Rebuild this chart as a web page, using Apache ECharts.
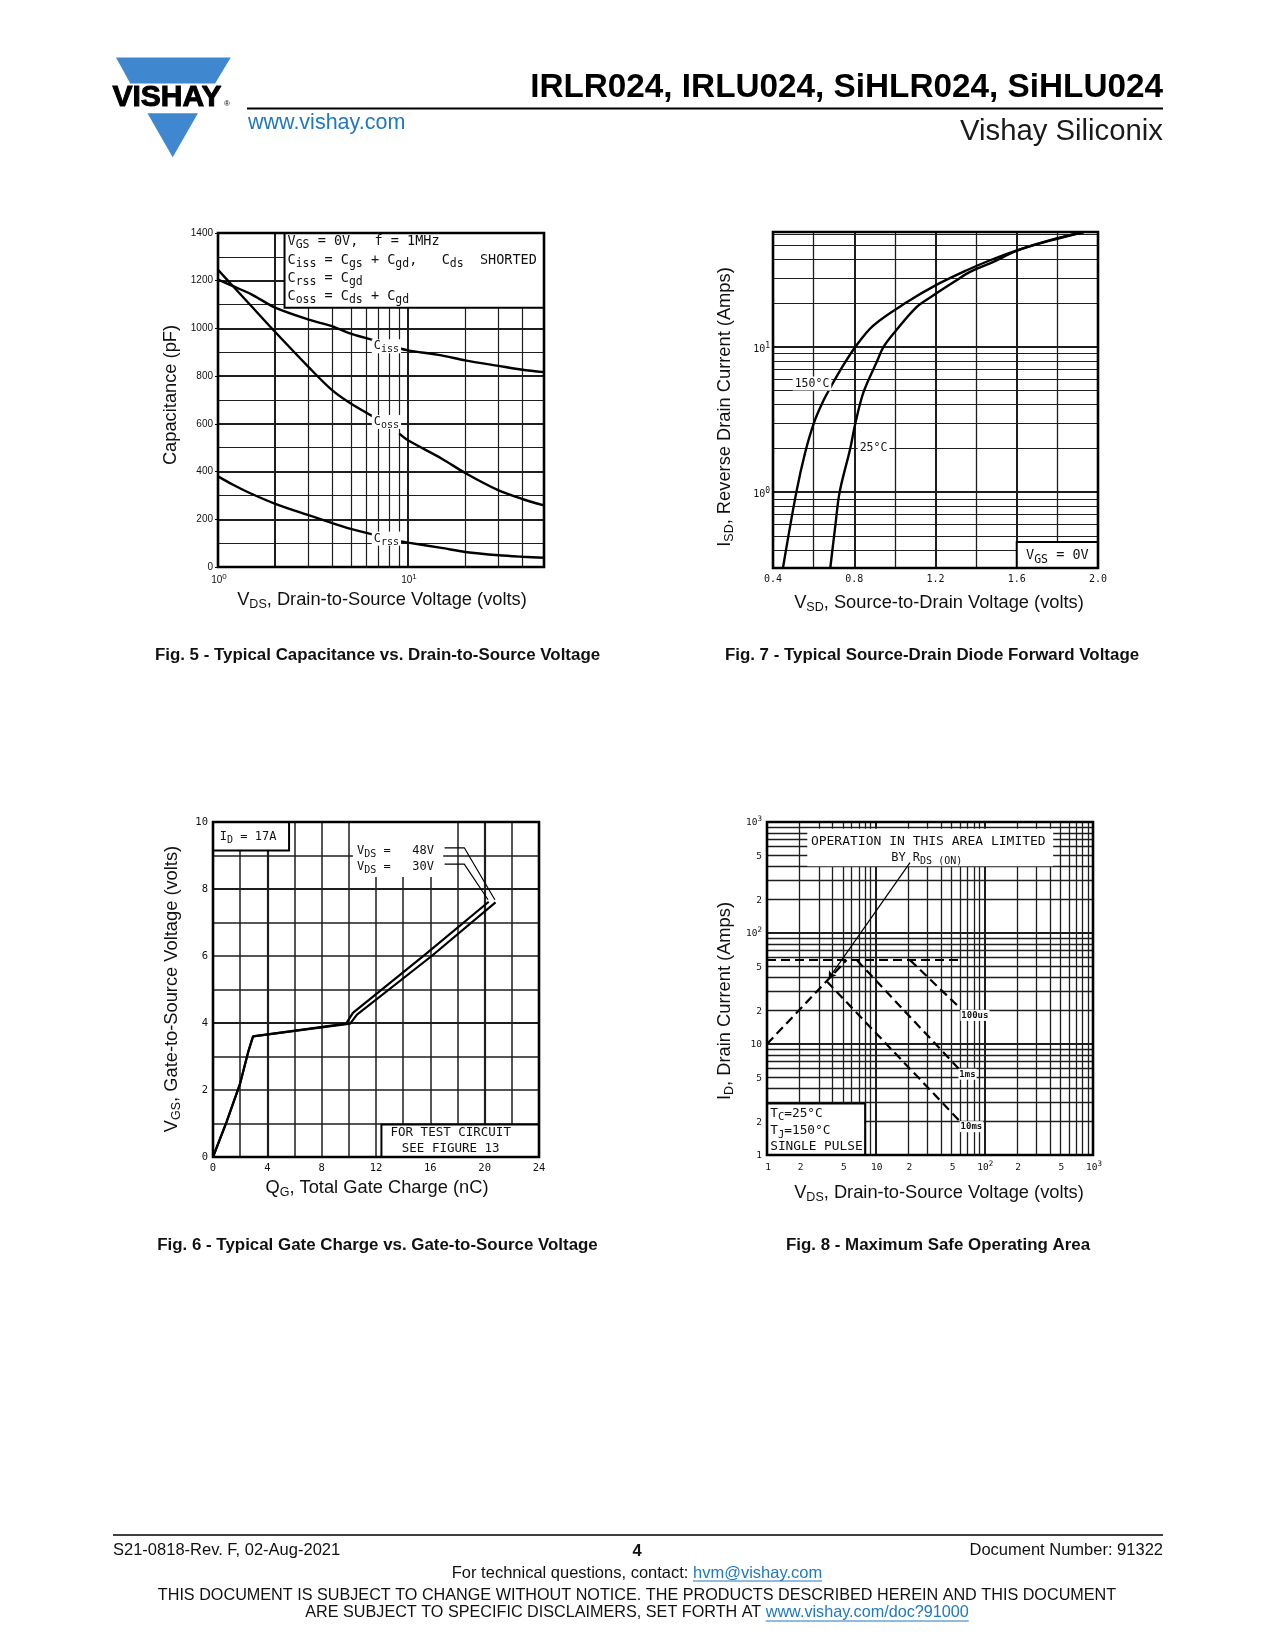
<!DOCTYPE html>
<html>
<head>
<meta charset="utf-8">
<title>IRLR024, IRLU024, SiHLR024, SiHLU024 - page 4</title>
<script src="https://cdn.jsdelivr.net/npm/echarts@6/dist/echarts.min.js"></script>
<style>
html,body{margin:0;padding:0;background:#ffffff;}
#page{width:1275px;height:1650px;}
</style>
</head>
<body>
<div id="page"></div>
<script>
// ======================= DATA =======================
// Fig. 5 - Typical Capacitance vs. Drain-to-Source Voltage
const fig5Vds  = [1, 1.2, 1.5, 2, 3, 4, 5, 6.5, 9, 10, 15, 20, 30, 40, 52];
const fig5Ciss = [1205, 1177, 1143, 1087, 1037, 1009, 978, 952, 917, 908, 887, 866, 843, 827, 817];
const fig5Coss = [1246, 1177, 1093, 985, 838, 740, 685, 632, 559, 531, 455, 394, 321, 285, 258];
const fig5Crss = [380, 345, 307, 265, 217, 184, 160, 137, 108, 102, 80, 63, 49, 43, 39];
const fig5LabelVds = 7.7;
const fig5LabelCap = [925, 608, 119];
const fig5LabelSub = ['iss', 'oss', 'rss'];
const fig5XTickVals = [1, 10];
const fig5XTickText = ['10^0', '10^1'];
const fig5GridX = [2, 3, 4, 5, 6, 7, 8, 9, 10, 20, 30, 40];
const fig5GridY = [100, 200, 300, 400, 500, 600, 700, 800, 900, 1000, 1100, 1200, 1300];

// Fig. 7 - Typical Source-Drain Diode Forward Voltage
const fig7Vsd150 = [0.449, 0.515, 0.559, 0.603, 0.649, 0.674, 0.731, 0.805, 0.895, 1.06, 1.2, 1.354, 1.469, 1.6, 1.764, 1.93];
const fig7Isd150 = [0.3, 1.0, 1.89, 3.04, 4.29, 5.0, 6.9, 10, 14.1, 20.4, 26.6, 33.8, 39.6, 46.4, 54.5, 62];
const fig7Vsd25  = [0.682, 0.707, 0.728, 0.78, 0.805, 0.846, 0.911, 0.944, 1.0, 1.108, 1.19, 1.29, 1.37, 1.485, 1.6, 1.764, 1.93];
const fig7Isd25  = [0.3, 0.589, 1.0, 1.99, 2.96, 4.9, 7.9, 10, 12.7, 18.9, 22.7, 28, 32.9, 38.6, 46, 54, 62];
const fig7YTickVals = [1, 10];
const fig7YTickText = ['10^0', '10^1'];
const fig7GridX = [0.6, 0.8, 1.0, 1.2, 1.4, 1.6, 1.8];
const fig7GridY = [0.4, 0.5, 0.6, 0.7, 0.8, 0.9, 1, 2, 3, 4, 5, 6, 7, 8, 9, 10, 20, 30, 40, 50, 60];

// Fig. 6 - Typical Gate Charge vs. Gate-to-Source Voltage
const fig6Qg30  = [0, 1, 2, 2.6, 2.95, 9.8, 10.3, 15.7, 20.3];
const fig6Vgs30 = [0, 1.05, 2.2, 3.15, 3.6, 3.98, 4.3, 6.07, 7.62];
const fig6Qg48  = [0, 1, 2, 2.6, 2.95, 10.1, 10.6, 16.1, 20.8];
const fig6Vgs48 = [0, 1.05, 2.2, 3.15, 3.6, 3.98, 4.25, 6.0, 7.6];
const fig6Lead48 = [[17.05, 9.23], [18.5, 9.23], [20.75, 7.68]];
const fig6Lead30 = [[17.05, 8.74], [18.5, 8.74], [20.25, 7.68]];
const fig6GridX = [2, 4, 6, 8, 10, 12, 14, 16, 18, 20, 22];
const fig6GridY = [1, 2, 3, 4, 5, 6, 7, 8, 9];

// Fig. 8 - Maximum Safe Operating Area
const fig8RdsV  = [1, 5.4];      const fig8RdsI  = [10, 57];
const fig8LimV  = [1, 60];       const fig8LimI  = [57, 57];
const fig8T100V = [20.7, 60];    const fig8T100I = [57, 21];
const fig8T1msV = [6.7, 60];     const fig8T1msI = [57, 5.8];
const fig8T10V  = [3.56, 60];    const fig8T10I  = [36.5, 2.0];
const fig8Leader = [[20.7, 431], [3.7, 39]];
const fig8TickVals = [1, 2, 5, 10, 20, 50, 100, 200, 500, 1000];
const fig8TickText = ['1', '2', '5', '10', '2', '5', '10^2', '2', '5', '10^3'];
const fig8Grid = [2, 3, 4, 5, 6, 7, 8, 9, 10, 20, 30, 40, 50, 60, 70, 80, 90, 100, 200, 300, 400, 500, 600, 700, 800, 900];

// ======================= HELPERS =======================
const MONO = "'DejaVu Sans Mono', 'Liberation Mono', monospace";
const SANS = "'Liberation Sans', Arial, Helvetica, sans-serif";
const INK = '#111111';
const GRIDC = '#1e1e1e';

function zip(xs, ys) { return xs.map((x, i) => [x, ys[i]]); }
function withGap(xs, ys, gx) {
  const out = [];
  for (let i = 0; i < xs.length; i++) {
    out.push([xs[i], ys[i]]);
    if (i < xs.length - 1 && xs[i] < gx && xs[i + 1] > gx) out.push([gx, '-']);
  }
  return out;
}
function near(v, arr) { return arr.some(a => Math.abs(a - v) < 1e-6); }
function gridMarks(xs, ys, wX, wY) {
  const d = [];
  xs.forEach(v => d.push({ xAxis: v, lineStyle: { color: GRIDC, width: wX(v), type: 'solid' } }));
  ys.forEach(v => d.push({ yAxis: v, lineStyle: { color: GRIDC, width: wY(v), type: 'solid' } }));
  return d;
}
function gridSeries(idx, anchor, data) {
  return {
    type: 'line', xAxisIndex: idx, yAxisIndex: idx, data: [anchor], showSymbol: false, symbol: 'none',
    lineStyle: { opacity: 0 }, silent: true, z: 1, animation: false,
    markLine: { silent: true, symbol: ['none', 'none'], label: { show: false }, animation: false, data: data }
  };
}
function curve(idx, data, extra) {
  return Object.assign({
    type: 'line', xAxisIndex: idx, yAxisIndex: idx, data: data, showSymbol: false, symbol: 'none',
    lineStyle: { color: '#000', width: 2.4 }, z: 10, animation: false, silent: true, connectNulls: false
  }, extra || {});
}
function baseAxis(extra) {
  return Object.assign({
    axisLine: { show: false }, axisTick: { show: false }, splitLine: { show: false },
    minorTick: { show: false }, minorSplitLine: { show: false }
  }, extra);
}

// ======================= CHART =======================
const chart = echarts.init(document.getElementById('page'), null, { renderer: 'canvas', width: 1275, height: 1650 });

const option = {
  animation: false,
  backgroundColor: '#ffffff',
  grid: [
    { left: 218, top: 233, width: 326, height: 334 },
    { left: 773, top: 232, width: 325, height: 336 },
    { left: 213, top: 822, width: 326, height: 335 },
    { left: 767, top: 822, width: 326, height: 333 }
  ],
  xAxis: [
    baseAxis({ gridIndex: 0, type: 'log', logBase: 10, min: 1, max: 52, axisLabel: { show: false } }),
    baseAxis({ gridIndex: 1, type: 'value', min: 0.4, max: 2.0, interval: 0.4,
      axisLabel: { show: true, margin: 6, fontFamily: MONO, fontSize: 10, color: INK, showMinLabel: true, showMaxLabel: true,
        formatter: v => v.toFixed(1) } }),
    baseAxis({ gridIndex: 2, type: 'value', min: 0, max: 24, interval: 4,
      axisLabel: { show: true, margin: 6, fontFamily: MONO, fontSize: 10.5, color: INK, showMinLabel: true, showMaxLabel: true,
        formatter: v => String(v) } }),
    baseAxis({ gridIndex: 3, type: 'log', logBase: 10, min: 1, max: 1000, axisLabel: { show: false } })
  ],
  yAxis: [
    baseAxis({ gridIndex: 0, type: 'value', min: 0, max: 1400, interval: 200,
      axisTick: { show: true, length: 3, lineStyle: { color: '#000', width: 1 } },
      axisLabel: { show: true, margin: 5, fontFamily: SANS, fontSize: 10, color: INK, showMinLabel: true, showMaxLabel: true,
        formatter: v => String(v) } }),
    baseAxis({ gridIndex: 1, type: 'log', logBase: 10, min: 0.3, max: 62, axisLabel: { show: false } }),
    baseAxis({ gridIndex: 2, type: 'value', min: 0, max: 10, interval: 2,
      axisLabel: { show: true, margin: 5, fontFamily: MONO, fontSize: 10.5, color: INK, showMinLabel: true, showMaxLabel: true,
        formatter: v => String(v) } }),
    baseAxis({ gridIndex: 3, type: 'log', logBase: 10, min: 1, max: 1000, axisLabel: { show: false } })
  ],
  series: [
    // grid lines
    gridSeries(0, [1, 0], gridMarks(fig5GridX, fig5GridY, v => (v === 2 || v === 10) ? 2 : 1.2, v => (v % 200 === 0) ? 2 : 1.1)),
    gridSeries(1, [0.4, 0.3], gridMarks(fig7GridX, fig7GridY, v => near(v, [0.8, 1.2, 1.6]) ? 2 : 1.3, v => near(v, [1, 10]) ? 2.2 : 1.2)),
    gridSeries(2, [0, 0], gridMarks(fig6GridX, fig6GridY, v => (v === 4 || v === 20) ? 2.2 : 1.5, v => (v === 4 || v === 8) ? 2.2 : 1.5)),
    gridSeries(3, [1, 1], gridMarks(fig8Grid, fig8Grid, v => (v === 10 || v === 100) ? 2 : 1.3, v => (v === 10 || v === 100) ? 2 : 1.3)),
    // Fig 5 curves
    curve(0, withGap(fig5Vds, fig5Ciss, fig5LabelVds), { name: 'Ciss', smooth: 0.3 }),
    curve(0, withGap(fig5Vds, fig5Coss, fig5LabelVds), { name: 'Coss', smooth: 0.3 }),
    curve(0, withGap(fig5Vds, fig5Crss, fig5LabelVds), { name: 'Crss', smooth: 0.3 }),
    // Fig 7 curves
    curve(1, zip(fig7Vsd150, fig7Isd150), { name: '150°C', smooth: 0.35 }),
    curve(1, zip(fig7Vsd25, fig7Isd25), { name: '25°C', smooth: 0.35 }),
    // Fig 6 curves
    curve(2, zip(fig6Qg30, fig6Vgs30), { name: 'VDS = 30V', lineStyle: { color: '#000', width: 2.2 } }),
    curve(2, zip(fig6Qg48, fig6Vgs48), { name: 'VDS = 48V', lineStyle: { color: '#000', width: 2.2 } }),
    {
      type: 'lines', coordinateSystem: 'cartesian2d', xAxisIndex: 2, yAxisIndex: 2, polyline: true, silent: true, z: 11,
      symbol: ['none', 'arrow'], symbolSize: 7, animation: false,
      lineStyle: { color: '#000', width: 1.2, opacity: 1 },
      data: [{ coords: fig6Lead48 }, { coords: fig6Lead30 }]
    },
    // Fig 8 lines
    curve(3, zip(fig8RdsV, fig8RdsI), { name: 'RDS(on) limit', lineStyle: { color: '#000', width: 2.2, type: [9, 5] } }),
    curve(3, zip(fig8LimV, fig8LimI), { name: 'current limit', lineStyle: { color: '#000', width: 2, type: [9, 5] } }),
    curve(3, zip(fig8T100V, fig8T100I), { name: '100us', lineStyle: { color: '#000', width: 2.2, type: [9, 5] } }),
    curve(3, zip(fig8T1msV, fig8T1msI), { name: '1ms', lineStyle: { color: '#000', width: 2.2, type: [9, 5] } }),
    curve(3, zip(fig8T10V, fig8T10I), { name: '10ms', lineStyle: { color: '#000', width: 2.2, type: [9, 5] } }),
    {
      type: 'lines', coordinateSystem: 'cartesian2d', xAxisIndex: 3, yAxisIndex: 3, polyline: false, silent: true, z: 11,
      symbol: ['none', 'arrow'], symbolSize: 7, animation: false,
      lineStyle: { color: '#000', width: 1.2, opacity: 1 },
      data: [{ coords: fig8Leader }]
    }
  ]
};
chart.setOption(option);

// ======================= ANNOTATIONS (real text) =======================
const P = (g, x, y) => chart.convertToPixel({ gridIndex: g }, [x, y]);
const measureCtx = document.createElement('canvas').getContext('2d');
function tw(text, size, weight) { measureCtx.font = (weight || 'normal') + ' ' + size + 'px ' + SANS; return measureCtx.measureText(text).width; }

function richMono(n, s) {
  return {
    n: { fontFamily: MONO, fontSize: n, lineHeight: n + 2 },
    s: { fontFamily: MONO, fontSize: s, lineHeight: s + 2, padding: [Math.round(n * 0.6), 0, 0, 0] },
    p: { fontFamily: MONO, fontSize: s, lineHeight: s + 2, padding: [0, 0, Math.round(n * 0.6), 0] }
  };
}
function supRich(str) {
  const parts = str.split('^');
  return parts.length > 1 ? '{b|' + parts[0] + '}{p|' + parts[1] + '}' : '{b|' + parts[0] + '}';
}
function tickRich(size, fam) {
  return {
    b: { fontFamily: fam, fontSize: size, lineHeight: size + 2 },
    p: { fontFamily: fam, fontSize: size - 2, lineHeight: size, padding: [0, 0, 7, 0] }
  };
}
const G = [];
function text(x, y, str, opt) {
  opt = opt || {};
  G.push({
    type: 'text', x: x, y: y, rotation: opt.rotation || 0, z: opt.z || 30, silent: true,
    style: Object.assign({
      text: str, fill: opt.fill || INK, fontFamily: opt.family || SANS, fontSize: opt.size || 14,
      fontWeight: opt.weight || 'normal', align: opt.align || 'left', verticalAlign: opt.valign || 'middle'
    }, opt.style || {})
  });
}
function box(g, x0, y0, x1, y1, border, z) {
  const a = P(g, x0, y1), b = P(g, x1, y0);
  G.push({
    type: 'rect', z: z || 7, silent: true,
    shape: { x: a[0], y: a[1], width: b[0] - a[0], height: b[1] - a[1] },
    style: { fill: '#ffffff', stroke: border ? '#000' : null, lineWidth: border ? 2 : 0 }
  });
  return { x: a[0], y: a[1], w: b[0] - a[0], h: b[1] - a[1] };
}
function frame(g, x0, y0, x1, y1) {
  const a = P(g, x0, y1), b = P(g, x1, y0);
  G.push({ type: 'rect', z: 20, silent: true, shape: { x: a[0], y: a[1], width: b[0] - a[0], height: b[1] - a[1] },
    style: { fill: null, stroke: '#000', lineWidth: 2.6 } });
  return { x: a[0], y: a[1], w: b[0] - a[0], h: b[1] - a[1] };
}
function line(x1, y1, x2, y2, w, color) {
  G.push({ type: 'line', z: 30, silent: true, shape: { x1: x1, y1: y1, x2: x2, y2: y2 }, style: { stroke: color || '#000', lineWidth: w } });
}

// ---------- header ----------
const BLUE = '#3f87cf';
G.push({ type: 'polygon', z: 30, silent: true, shape: { points: [[116, 57.5], [230.7, 57.5], [215.1, 83.5], [130.3, 83.5]] }, style: { fill: BLUE } });
G.push({ type: 'polygon', z: 30, silent: true, shape: { points: [[147.5, 113.3], [197.9, 113.3], [172.7, 157.3]] }, style: { fill: BLUE } });
text(112.5, 97.5, 'VISHAY', { size: 30, weight: 'bold', fill: '#000', style: { stroke: '#000', lineWidth: 1 } });
text(224, 103.5, '®', { size: 8, fill: '#000' });
text(1163, 87.5, 'IRLR024, IRLU024, SiHLR024, SiHLU024', { size: 33.3, weight: 'bold', align: 'right', fill: '#000' });
line(247, 108.5, 1163, 108.5, 2);
text(248, 123, 'www.vishay.com', { size: 21.5, fill: '#1f78c1' });
text(1163, 132, 'Vishay Siliconix', { size: 29.3, align: 'right', fill: '#1a1a1a' });

// ---------- captions ----------
const CAP = 16.9;
text(377.5, 655.5, 'Fig. 5 - Typical Capacitance vs. Drain-to-Source Voltage', { size: CAP, weight: 'bold', align: 'center' });
text(932, 655.5, 'Fig. 7 - Typical Source-Drain Diode Forward Voltage', { size: CAP, weight: 'bold', align: 'center' });
text(377.5, 1245.5, 'Fig. 6 - Typical Gate Charge vs. Gate-to-Source Voltage', { size: CAP, weight: 'bold', align: 'center' });
text(938, 1245.5, 'Fig. 8 - Maximum Safe Operating Area', { size: CAP, weight: 'bold', align: 'center' });

// ---------- footer ----------
const FS = 16.5, FD = 16.2;
line(113, 1535, 1163, 1535, 1.6);
text(113, 1550, 'S21-0818-Rev. F, 02-Aug-2021', { size: FS });
text(637, 1551.5, '4', { size: FS, weight: 'bold', align: 'center' });
text(1163, 1550, 'Document Number: 91322', { size: FS, align: 'right' });
(function () {
  const LINK = '#1f78c1';
  const a1 = 'For technical questions, contact: ', l1 = 'hvm@vishay.com';
  const w1 = tw(a1, FS), w2 = tw(l1, FS);
  const s1 = 637 - (w1 + w2) / 2;
  text(s1, 1573, a1, { size: FS });
  text(s1 + w1, 1573, l1, { size: FS, fill: LINK });
  line(s1 + w1, 1581, s1 + w1 + w2, 1581, 1, LINK);
  text(637, 1596, 'THIS DOCUMENT IS SUBJECT TO CHANGE WITHOUT NOTICE. THE PRODUCTS DESCRIBED HEREIN AND THIS DOCUMENT', { size: FD, align: 'center' });
  const a2 = 'ARE SUBJECT TO SPECIFIC DISCLAIMERS, SET FORTH AT ', l2 = 'www.vishay.com/doc?91000';
  const w3 = tw(a2, FD), w4 = tw(l2, FD);
  const s2 = 637 - (w3 + w4) / 2;
  text(s2, 1613, a2, { size: FD });
  text(s2 + w3, 1613, l2, { size: FD, fill: LINK });
  line(s2 + w3, 1621, s2 + w3 + w4, 1621, 1, LINK);
})();

// ---------- axis names ----------
const richName = {
  n: { fontFamily: SANS, fontSize: 18.3, lineHeight: 20 },
  s: { fontFamily: SANS, fontSize: 12.5, lineHeight: 14, padding: [9, 0, 0, 0] }
};
function axisName(x, y, str, rot) { text(x, y, str, { rotation: rot || 0, align: 'center', style: { rich: richName } }); }
axisName(171, 395, '{n|Capacitance (pF)}', Math.PI / 2);
axisName(382, 600, '{n|V}{s|DS}{n|, Drain-to-Source Voltage (volts)}');
axisName(725, 407, '{n|I}{s|SD}{n|, Reverse Drain Current (Amps)}', Math.PI / 2);
axisName(939, 603, '{n|V}{s|SD}{n|, Source-to-Drain Voltage (volts)}');
axisName(172, 989, '{n|V}{s|GS}{n|, Gate-to-Source Voltage (volts)}', Math.PI / 2);
axisName(377, 1188, '{n|Q}{s|G}{n|, Total Gate Charge (nC)}');
axisName(725, 1001, '{n|I}{s|D}{n|, Drain Current (Amps)}', Math.PI / 2);
axisName(939, 1193, '{n|V}{s|DS}{n|, Drain-to-Source Voltage (volts)}');

// ---------- Fig 5 ----------
(function () {
  const f = frame(0, 1, 0, 52, 1400);
  fig5XTickVals.forEach((v, i) => {
    const p = P(0, v, 0);
    text(p[0] + 1, f.y + f.h + 13, supRich(fig5XTickText[i]), { align: 'center', style: { rich: tickRich(10, SANS) } });
  });
  const b = box(0, 2.24, 1087, 52, 1400, true, 7);
  const R = richMono(13.5, 11.5);
  const L = [
    '{n|V}{s|GS}{n| = 0V,  f = 1MHz}',
    '{n|C}{s|iss}{n| = C}{s|gs}{n| + C}{s|gd}{n|,   C}{s|ds}{n|  SHORTED}',
    '{n|C}{s|rss}{n| = C}{s|gd}',
    '{n|C}{s|oss}{n| = C}{s|ds}{n| + C}{s|gd}'
  ];
  const offs = [8, 27, 45, 63];
  L.forEach((s, i) => text(b.x + 3, b.y + offs[i], s, { z: 31, style: { rich: R } }));
  const RL = richMono(12, 10);
  fig5LabelCap.forEach((c, i) => {
    const p = P(0, fig5LabelVds, c);
    text(p[0], p[1], '{n|C}{s|' + fig5LabelSub[i] + '}', { align: 'center', z: 12,
      style: { rich: RL, backgroundColor: '#ffffff', padding: [0, 2, 0, 2] } });
  });
})();

// ---------- Fig 7 ----------
(function () {
  const f = frame(1, 0.4, 0.3, 2.0, 62);
  fig7YTickVals.forEach((v, i) => {
    const p = P(1, 0.4, v);
    text(f.x - 3, p[1] + 2, supRich(fig7YTickText[i]), { align: 'right', style: { rich: tickRich(10, MONO) } });
  });
  const b = box(1, 1.6, 0.3, 2.0, 0.454, true, 7);
  text(b.x + b.w / 2, b.y + b.h / 2 + 1, '{n|V}{s|GS}{n| = 0V}', { align: 'center', z: 31, style: { rich: richMono(13.5, 11.5) } });
  const p150 = P(1, 0.592, 5.6);
  text(p150[0], p150[1], '150°C', { family: MONO, size: 11.5, align: 'center', z: 12, style: { backgroundColor: '#ffffff', padding: [1, 2, 1, 2] } });
  const p25 = P(1, 0.895, 2.0);
  text(p25[0], p25[1], '25°C', { family: MONO, size: 11.5, align: 'center', z: 12, style: { backgroundColor: '#ffffff', padding: [1, 2, 1, 2] } });
})();

// ---------- Fig 6 ----------
(function () {
  frame(2, 0, 0, 24, 10);
  const R = richMono(12, 10);
  box(2, 0, 9.15, 5.6, 10, true, 7);
  const t1 = P(2, 0.5, 9.55);
  text(t1[0], t1[1], '{n|I}{s|D}{n| = 17A}', { z: 31, style: { rich: R } });
  box(2, 10.3, 8.36, 16.95, 10, false, 7);
  const v1 = P(2, 10.6, 9.15), v2 = P(2, 10.6, 8.66);
  text(v1[0], v1[1], '{n|V}{s|DS}{n| =   48V}', { z: 31, style: { rich: R } });
  text(v2[0], v2[1], '{n|V}{s|DS}{n| =   30V}', { z: 31, style: { rich: R } });
  box(2, 12.4, 0, 24, 0.97, true, 7);
  const c1 = P(2, 17.5, 0.72), c2 = P(2, 17.5, 0.25);
  text(c1[0], c1[1], 'FOR TEST CIRCUIT', { family: MONO, size: 12.5, align: 'center', z: 31 });
  text(c2[0], c2[1], 'SEE FIGURE 13', { family: MONO, size: 12.5, align: 'center', z: 31 });
})();

// ---------- Fig 8 ----------
(function () {
  const f = frame(3, 1, 1, 1000, 1000);
  const TR = tickRich(9.5, MONO);
  fig8TickVals.forEach((v, i) => {
    const px = P(3, v, 1);
    text(px[0] + 1, f.y + f.h + 13, supRich(fig8TickText[i]), { align: 'center', style: { rich: TR } });
    const py = P(3, 1, v);
    text(f.x - 5, py[1] + 1, supRich(fig8TickText[i]), { align: 'right', style: { rich: TR } });
  });
  box(3, 2.35, 400, 430, 870, false, 7);
  const o1 = P(3, 30.5, 661), o2 = P(3, 29.5, 478);
  text(o1[0], o1[1], 'OPERATION IN THIS AREA LIMITED', { family: MONO, size: 13, align: 'center', z: 31 });
  text(o2[0], o2[1], '{n|BY R}{s|DS (ON)}', { align: 'center', z: 31, style: { rich: richMono(12, 10) } });
  box(3, 1, 1, 8.0, 2.91, true, 7);
  const R = richMono(12.8, 10.5);
  const ta = P(3, 1.07, 2.37), tbb = P(3, 1.07, 1.64), tc = P(3, 1.07, 1.19);
  text(ta[0], ta[1], '{n|T}{s|C}{n|=25°C}', { z: 31, style: { rich: R } });
  text(tbb[0], tbb[1], '{n|T}{s|J}{n|=150°C}', { z: 31, style: { rich: R } });
  text(tc[0], tc[1], '{n|SINGLE PULSE}', { z: 31, style: { rich: R } });
  const lab = [['100us', 81.9, 18.1], ['1ms', 70, 5.34], ['10ms', 76, 1.8]];
  lab.forEach(l => {
    const p = P(3, l[1], l[2]);
    text(p[0], p[1], l[0], { family: MONO, size: 9, weight: 'bold', align: 'center', z: 12, style: { backgroundColor: '#ffffff', padding: [1, 1, 1, 1] } });
  });
})();

chart.setOption({ graphic: { elements: G } });
</script>
</body>
</html>
